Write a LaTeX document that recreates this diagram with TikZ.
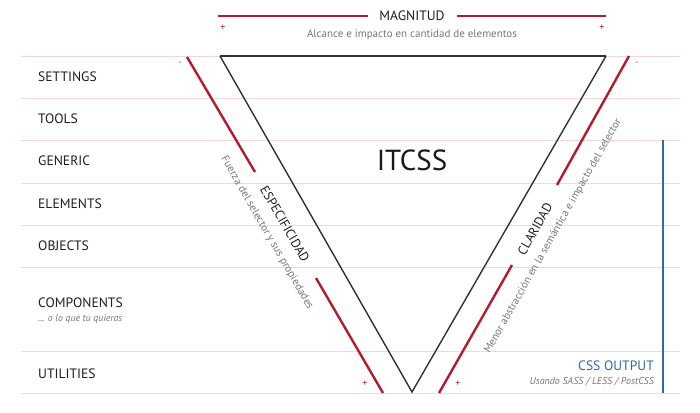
\documentclass[tikz,border=0pt]{standalone}
\usepackage{fontspec}
\setmainfont{PT Sans}
\definecolor{cred}{HTML}{B01E2D}
\definecolor{cpink}{HTML}{F6D6DE}
\definecolor{cblue}{HTML}{2E6AB1}
\definecolor{cgray}{HTML}{777777}
\definecolor{cdark}{HTML}{333333}
\begin{document}
\begin{tikzpicture}[x=1pt,y=-1pt,
  layer/.style={anchor=west,inner sep=0pt,text=black!88,font=\fontsize{13.6}{15}\selectfont},
  sub/.style={anchor=west,inner sep=0pt,text=cgray,font=\fontsize{9.8}{11}\selectfont\itshape},
  guide/.style={cpink,line width=0.9pt},
  redline/.style={cred,line width=2.4pt},
  tri/.style={cdark,line width=1.4pt,line join=miter},
  axis/.style={inner sep=0pt,text=black!88,font=\fontsize{13}{15}\selectfont},
  axsub/.style={inner sep=0pt,text=cgray,font=\fontsize{10.9}{12}\selectfont},
  sign/.style={inner sep=0pt,text=cred,font=\fontsize{10}{11}\selectfont}]
\useasboundingbox (0,0) rectangle (700,412);
\fill[white] (0,0) rectangle (700,412);
% guide lines
\foreach \y in {56,98,140,183,225,267,351,393}
  \draw[guide] (21,\y) -- (680,\y);
% layers
\node[layer] (settings) at (38,77) {SETTINGS};
\node[layer] (tools) at (38,119) {TOOLS};
\node[layer] (generic) at (38,161) {GENERIC};
\node[layer] (elements) at (38,204) {ELEMENTS};
\node[layer] (objects) at (38,246) {OBJECTS};
\node[layer] (components) at (38,303) {COMPONENTS};
\node[sub] (quieras) at (38,319) {... o lo que tu quieras};
\node[layer] (utilities) at (38,374) {UTILITIES};
% triangle
\coordinate (tl) at (220,56);
\coordinate (tr) at (606,56);
\coordinate (bt) at (412,392);
\draw[tri] (tl) -- (bt) -- (tr);
\draw[cdark,line width=2.2pt] (tl) -- (tr);
\node[inner sep=0pt,font=\fontsize{29}{32}\selectfont,text=black!90] (itcss) at (412,160) {ITCSS};
% magnitud
\coordinate (m1) at (218,16);
\coordinate (m2) at (368,16);
\coordinate (m3) at (457,16);
\coordinate (m4) at (606,16);
\draw[redline] (m1) -- (m2);
\draw[redline] (m3) -- (m4);
\node[inner sep=0pt,font=\fontsize{13.6}{15}\selectfont,text=black!88] (magnitud) at (412,16) {MAGNITUD};
\node[inner sep=0pt,font=\fontsize{11}{12}\selectfont,text=cgray] (alcance) at (412,35) {Alcance e impacto en cantidad de elementos};
\node[sign] (p1) at (223,28) {+};
\node[sign] (p2) at (602,28) {+};
% left red line
\coordinate (l1) at (187,57);
\coordinate (l2) at (255,172);
\coordinate (l3) at (316,278);
\coordinate (l4) at (383,393);
\draw[redline] (l1) -- (l2);
\draw[redline] (l3) -- (l4);
\node[sign,text=cgray] (lm) at (180,64) {-};
\node[sign] (lp) at (365,384) {+};
\node[axis,rotate=-60] (esp) at (285,224) {ESPECIFICIDAD};
\node[axsub,rotate=-60] (fuerza) at (267,233) {Fuerza del selector y sus propiedades};
% right red line
\coordinate (r1) at (629,56);
\coordinate (r2) at (557,185);
\coordinate (r3) at (512,265);
\coordinate (r4) at (439,393);
\draw[redline] (r1) -- (r2);
\draw[redline] (r3) -- (r4);
\node[sign,text=cgray] (rm) at (637,64) {-};
\node[sign] (rp) at (458,384) {+};
\node[axis,rotate=60.5] (clar) at (535,229) {CLARIDAD};
\node[axsub,rotate=60.5] (menor) at (553,236) {Menor abstracción en la semántica e impacto del selector};
% css output
\coordinate (b1) at (663,140);
\coordinate (b2) at (663,393);
\draw[cblue,line width=2pt] (b1) -- (b2);
\node[anchor=east,inner sep=0pt,text=cblue,font=\fontsize{13.6}{15}\selectfont] (css) at (654,366) {CSS OUTPUT};
\node[anchor=east,inner sep=0pt,text=cgray,font=\fontsize{10}{11}\selectfont\itshape] (usando) at (654,382) {Usando SASS / LESS / PostCSS};
\end{tikzpicture}
\end{document}
